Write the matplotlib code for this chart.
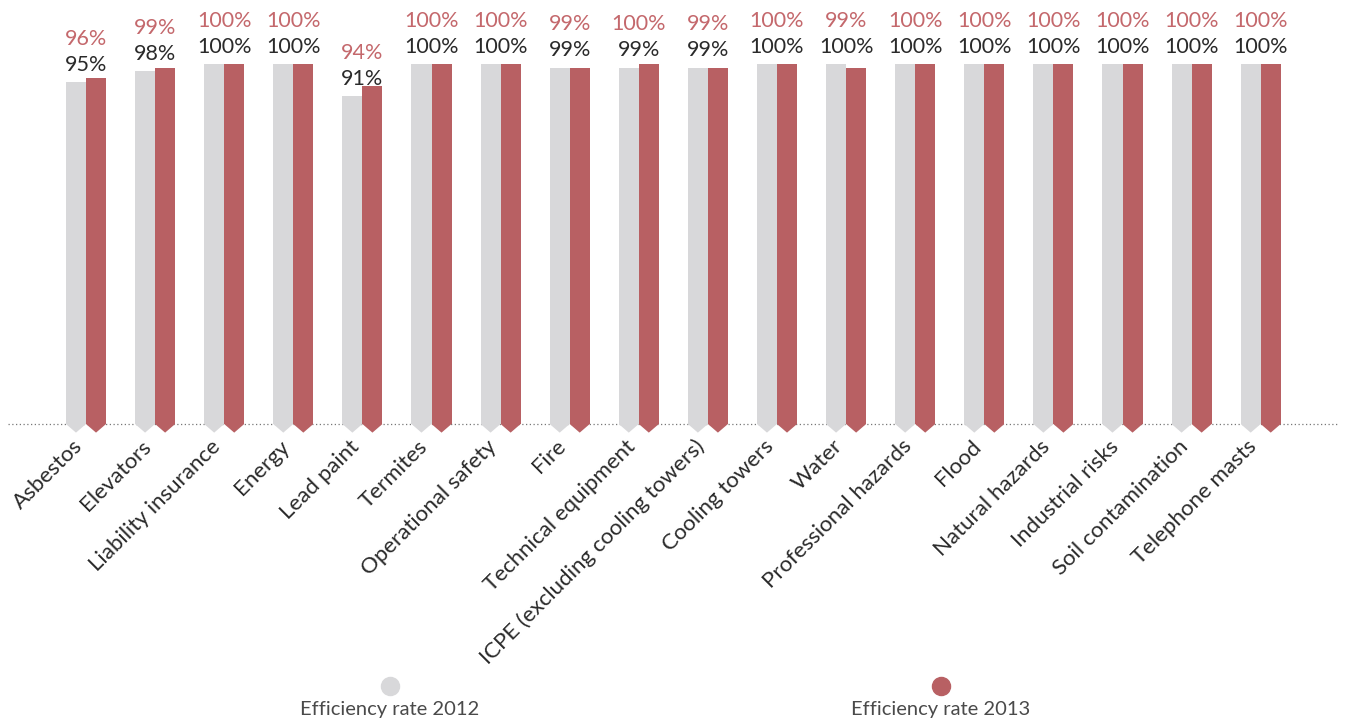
import matplotlib.pyplot as plt
from matplotlib.patches import Polygon
import numpy as np

categories = ["Asbestos", "Elevators", "Liability insurance", "Energy", "Lead paint",
              "Termites", "Operational safety", "Fire", "Technical equipment",
              "ICPE (excluding cooling towers)", "Cooling towers", "Water",
              "Professional hazards", "Flood", "Natural hazards", "Industrial risks",
              "Soil contamination", "Telephone masts"]
rate_2012 = [95, 98, 100, 100, 91, 100, 100, 99, 99, 99, 100, 100, 100, 100, 100, 100, 100, 100]
rate_2013 = [96, 99, 100, 100, 94, 100, 100, 99, 100, 99, 100, 99, 100, 100, 100, 100, 100, 100]
series_names = ["Efficiency rate 2012", "Efficiency rate 2013"]

GRAY = "#d8d8da"
RED = "#b86063"
RED_TXT = "#c4686c"
DARK = "#2a2a2a"

plt.rcParams['font.family'] = ['Lato', 'DejaVu Sans']

fig = plt.figure(figsize=(13.45, 7.2), dpi=100)
ax = fig.add_axes([0, 0, 1, 1])
ax.set_xlim(-86 / 69.1, (1345 - 86) / 69.1)
ax.set_ylim((424 - 720) / 3.6, 424 / 3.6)
ax.axis('off')

x = np.arange(len(categories))
w = 0.29
tip = 2.4  # depth of the chevron below the baseline

ax.plot([8 / 69.1 - 86 / 69.1, (1338 - 86) / 69.1], [0, 0], color="#777777",
        linestyle=(0, (1, 2)), linewidth=0.9, zorder=1)

bars_a = ax.bar(x - w / 2, rate_2012, width=w, color=GRAY, zorder=2)
bars_b = ax.bar(x + w / 2, rate_2013, width=w, color=RED, zorder=2)
for bars, col in [(bars_a, GRAY), (bars_b, RED)]:
    for b in bars:
        x0 = b.get_x()
        x1 = x0 + b.get_width()
        ax.add_patch(Polygon([(x0, 0), (x1, 0), ((x0 + x1) / 2, -tip)],
                             closed=True, color=col, lw=0, zorder=2))

for i in range(len(categories)):
    ytxt = rate_2012[i] + 4.8
    ax.text(x[i], ytxt, f"{rate_2012[i]}%", ha='center', va='center',
            fontsize=15.5, color=DARK)
    ax.text(x[i], ytxt + 7.2, f"{rate_2013[i]}%", ha='center', va='center',
            fontsize=15.5, color=RED_TXT)
    ax.text(x[i] - 0.2, -3.4, categories[i], rotation=45, rotation_mode='anchor',
            ha='right', va='top', fontsize=16, color=DARK)

for xf, name, col in [(390, series_names[0], GRAY), (941, series_names[1], RED)]:
    ax.plot([xf / 1345], [1 - 686 / 720], 'o', color=col, markersize=13,
            transform=fig.transFigure, clip_on=False)
    fig.text(xf / 1345, 1 - 709 / 720, name, ha='center', va='center',
             fontsize=14.5, color="#4a4a4a")

fig.savefig("out.png", dpi=100)
